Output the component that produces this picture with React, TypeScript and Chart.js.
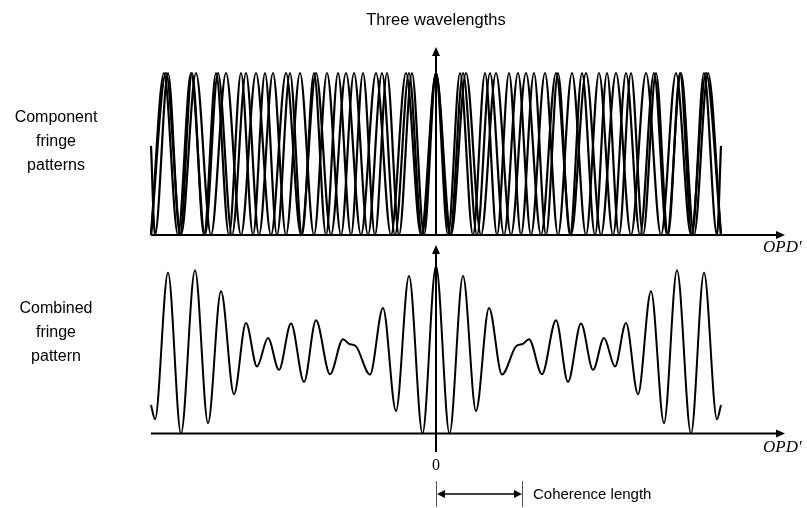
import React, { useEffect, useRef } from "react";
import { Chart, registerables } from "chart.js";

Chart.register(...registerables);

// ---------- data (OPD' offsets, 0 = zero OPD) ----------
// Component fringe 1 (shortest wavelength): positions of maxima / minima
const peaks1 = [-268, -244, -220, -195, -171, -146, -122, -98, -73, -49, -24, 0, 24, 49, 73, 98, 122, 146, 171, 195, 220, 244, 268];
const troughs1 = [-281, -256, -232, -207, -183, -159, -134, -110, -85, -61, -37, -12, 12, 37, 61, 85, 110, 134, 159, 183, 207, 232, 256, 281];
const ends1X = [-285, 285];
const ends1Y = [0.55, 0.55];

// Component fringe 2 (middle wavelength)
const peaks2 = [-272, -245, -218, -190, -163, -136, -109, -82, -54, -27, 0, 27, 54, 82, 109, 136, 163, 190, 218, 245, 272];
const troughs2 = [-285, -258, -231, -204, -177, -150, -122, -95, -68, -41, -14, 14, 41, 68, 95, 122, 150, 177, 204, 231, 258, 285];

// Component fringe 3 (longest wavelength)
const peaks3 = [-270, -240, -210, -180, -150, -120, -90, -60, -30, 0, 30, 60, 90, 120, 150, 180, 210, 240, 270];
const troughs3 = [-285, -255, -225, -195, -165, -135, -105, -75, -45, -15, 15, 45, 75, 105, 135, 165, 195, 225, 255, 285];

// Combined fringe pattern (normalised intensity)
const combinedX = [-285, -281, -268, -255, -241, -228, -215, -202, -190, -179, -168, -157, -145, -132, -120, -106, -93, -87, -80, -66, -53, -40, -27, -13.5, 0, 13.5, 27, 40, 53, 66, 80, 87, 93, 106, 120, 132, 145, 157, 168, 179, 190, 202, 215, 228, 241, 255, 268, 281, 285];
const combinedY = [0.17, 0.085, 0.96, 0.0, 0.975, 0.063, 0.85, 0.235, 0.66, 0.4, 0.57, 0.38, 0.657, 0.308, 0.676, 0.354, 0.563, 0.535, 0.52, 0.352, 0.75, 0.135, 0.94, 0.0, 1.0, 0.0, 0.94, 0.135, 0.75, 0.352, 0.52, 0.535, 0.563, 0.354, 0.676, 0.308, 0.657, 0.38, 0.57, 0.4, 0.66, 0.235, 0.85, 0.063, 0.975, 0.0, 0.96, 0.085, 0.17];

const coherenceLength = 86;
const X_MIN = -285;
const X_MAX = 349;

const titleText = "Three wavelengths";
const topLabel = ["Component", "fringe", "patterns"];
const bottomLabel = ["Combined", "fringe", "pattern"];
const axisLabel = "OPD'";
const zeroLabel = "0";
const coherenceLabel = "Coherence length";

type Pt = { x: number; y: number };

function buildSeries(peaks: number[], troughs: number[], endX: number[] = [], endY: number[] = []): Pt[] {
  const pts: Pt[] = [];
  peaks.forEach((x) => pts.push({ x, y: 1 }));
  troughs.forEach((x) => pts.push({ x, y: 0 }));
  endX.forEach((x, i) => pts.push({ x, y: endY[i] }));
  pts.sort((a, b) => a.x - b.x);
  return pts;
}

const SANS = '"Liberation Sans", Arial, Helvetica, sans-serif';
const SERIF = '"Liberation Serif", "Times New Roman", serif';

function arrowHead(ctx: CanvasRenderingContext2D, tx: number, ty: number, dir: "up" | "right", len = 9, half = 4) {
  ctx.beginPath();
  if (dir === "up") {
    ctx.moveTo(tx, ty);
    ctx.lineTo(tx - half, ty + len);
    ctx.lineTo(tx + half, ty + len);
  } else {
    ctx.moveTo(tx, ty);
    ctx.lineTo(tx - len, ty - half);
    ctx.lineTo(tx - len, ty + half);
  }
  ctx.closePath();
  ctx.fill();
}

const overlay = {
  id: "fringeOverlay",
  afterDatasetsDraw(chart: any) {
    const { ctx, scales } = chart;
    const x = scales.x;
    const y1 = scales.y1;
    const y2 = scales.y2;
    ctx.save();
    ctx.strokeStyle = "#000";
    ctx.fillStyle = "#000";
    ctx.lineWidth = 2;
    const x0 = x.getPixelForValue(0);
    const xl = x.getPixelForValue(X_MIN);
    const xr = x.getPixelForValue(X_MAX);

    // top panel axes
    const b1 = y1.getPixelForValue(0);
    ctx.beginPath();
    ctx.moveTo(xl, b1);
    ctx.lineTo(xr - 6, b1);
    ctx.stroke();
    arrowHead(ctx, xr, b1, "right");
    const t1 = y1.getPixelForValue(1.16);
    ctx.beginPath();
    ctx.moveTo(x0, b1);
    ctx.lineTo(x0, t1 + 6);
    ctx.stroke();
    arrowHead(ctx, x0, t1, "up");

    // bottom panel axes
    const b2 = y2.getPixelForValue(0);
    ctx.beginPath();
    ctx.moveTo(xl, b2);
    ctx.lineTo(xr - 6, b2);
    ctx.stroke();
    arrowHead(ctx, xr, b2, "right");
    const t2 = y2.getPixelForValue(1.125);
    const lo2 = y2.getPixelForValue(-0.11);
    ctx.beginPath();
    ctx.moveTo(x0, lo2);
    ctx.lineTo(x0, t2 + 6);
    ctx.stroke();
    arrowHead(ctx, x0, t2, "up");

    // texts
    ctx.textAlign = "center";
    ctx.textBaseline = "middle";
    ctx.font = `16.5px ${SANS}`;
    ctx.fillText(titleText, x0, 20);
    ctx.font = `16px ${SANS}`;
    topLabel.forEach((s, i) => ctx.fillText(s, 56, 118 + i * 24));
    bottomLabel.forEach((s, i) => ctx.fillText(s, 56, 309 + i * 24));

    ctx.font = `italic 17px ${SERIF}`;
    ctx.textAlign = "left";
    ctx.fillText(axisLabel, 763, b1 + 13);
    ctx.fillText(axisLabel, 763, b2 + 14);

    ctx.font = `16px ${SERIF}`;
    ctx.textAlign = "center";
    ctx.fillText(zeroLabel, x0, 466);

    // coherence length bracket
    const xc = x.getPixelForValue(coherenceLength);
    ctx.strokeStyle = "#555";
    ctx.lineWidth = 1;
    ctx.beginPath();
    ctx.moveTo(x0 + 0.5, 481);
    ctx.lineTo(x0 + 0.5, 507);
    ctx.moveTo(xc + 0.5, 481);
    ctx.lineTo(xc + 0.5, 507);
    ctx.stroke();
    ctx.strokeStyle = "#000";
    ctx.lineWidth = 1.5;
    ctx.beginPath();
    ctx.moveTo(x0 + 6, 494);
    ctx.lineTo(xc - 6, 494);
    ctx.stroke();
    ctx.beginPath();
    ctx.moveTo(x0 + 1, 494);
    ctx.lineTo(x0 + 9, 490);
    ctx.lineTo(x0 + 9, 498);
    ctx.closePath();
    ctx.fill();
    arrowHead(ctx, xc, 494, "right", 8, 4);

    ctx.font = `15px ${SANS}`;
    ctx.textAlign = "left";
    ctx.fillText(coherenceLabel, xc + 11, 495);
    ctx.restore();
  },
};

export default function App() {
  const ref = useRef<HTMLCanvasElement | null>(null);
  useEffect(() => {
    if (!ref.current) return;
    const line = (data: Pt[], axis: string, width: number) => ({
      data,
      yAxisID: axis,
      borderColor: "#000",
      borderWidth: width,
      pointRadius: 0,
      fill: false,
      cubicInterpolationMode: "monotone" as const,
      clip: false as any,
    });
    const chart = new Chart(ref.current, {
      type: "line",
      data: {
        datasets: [
          line(buildSeries(peaks1, troughs1, ends1X, ends1Y), "y1", 2.2),
          line(buildSeries(peaks2, troughs2), "y1", 2.2),
          line(buildSeries(peaks3, troughs3), "y1", 2.2),
          line(combinedX.map((x, i) => ({ x, y: combinedY[i] })), "y2", 2),
        ],
      },
      options: {
        animation: false,
        responsive: false,
        maintainAspectRatio: false,
        layout: { padding: { left: 151, right: 22, top: 40, bottom: 48 } },
        plugins: { legend: { display: false }, tooltip: { enabled: false }, title: { display: false } },
        events: [],
        scales: {
          x: { type: "linear", min: X_MIN, max: X_MAX, display: false },
          y1: { type: "linear", min: -1.3889, max: 1.2037, display: false },
          y2: { type: "linear", min: -0.1582, max: 2.3493, display: false },
        },
      },
      plugins: [overlay],
    });
    return () => chart.destroy();
  }, []);
  return (
    <div style={{ position: "absolute", left: 0, top: 0, width: 807, height: 508, background: "#fff" }}>
      <canvas ref={ref} width={807} height={508} style={{ display: "block" }} />
    </div>
  );
}
